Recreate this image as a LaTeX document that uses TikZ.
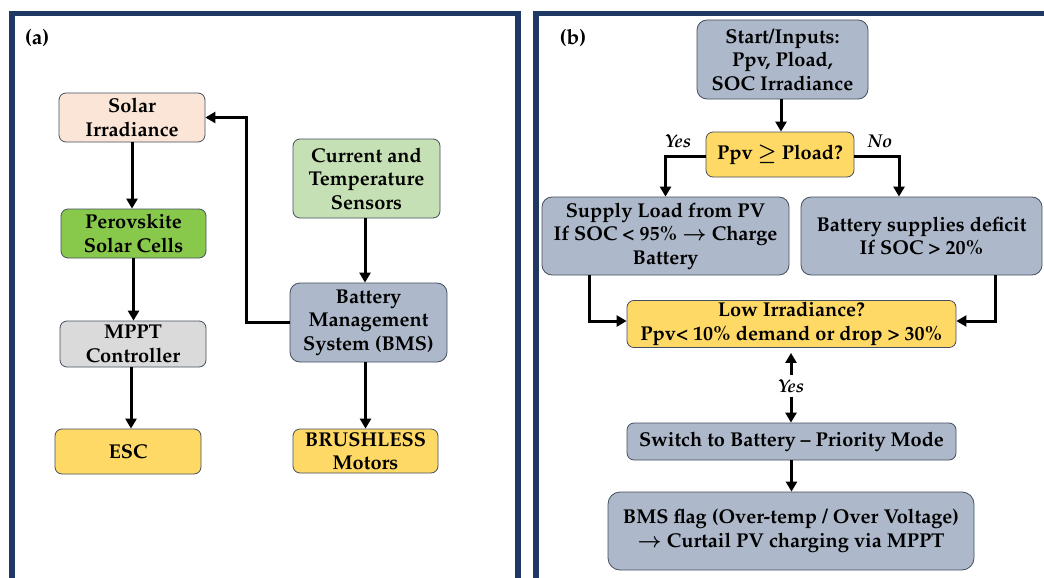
\documentclass[tikz,border=0pt]{standalone}
\usepackage[T1]{fontenc}
\usepackage{amsmath}
\usepackage{mathpazo}
\usetikzlibrary{arrows.meta,calc}

\definecolor{framenavy}{HTML}{1F3864}
\definecolor{edgegrey}{HTML}{44505F}
\definecolor{peach}{HTML}{FBE5D6}
\definecolor{leafgreen}{HTML}{88C94B}
\definecolor{palegreen}{HTML}{C5E0B4}
\definecolor{slateblue}{HTML}{ADB9CA}
\definecolor{lightgrey}{HTML}{DADADA}
\definecolor{sunyellow}{HTML}{FFD966}

\tikzset{
  panelframe/.style={draw=framenavy, line width=5.5pt},
  box/.style={draw=edgegrey, line width=0.8pt, rounded corners=7pt,
    align=center, inner sep=2pt,
    font=\fontsize{20}{23.5}\selectfont\bfseries},
  flow/.style={line width=3pt, -{Triangle[length=10pt,width=11pt]}},
  branchlabel/.style={font=\fontsize{18.5}{20}\selectfont\bfseries\itshape, inner sep=2pt},
  panellabel/.style={font=\fontsize{21}{24}\selectfont\bfseries}
}

\begin{document}
\begin{tikzpicture}[x=1pt,y=-1pt]
\useasboundingbox (0,0) rectangle (1044,578);
\fill[white] (0,0) rectangle (1044,578);

% panel frames (open at the bottom and right edge of the page)
\begin{scope}
  \clip (0,0) rectangle (1044,578);
  \draw[panelframe] (12,13.5) rectangle (518,620);
  \draw[panelframe] (536,13.5) rectangle (1080,620);
\end{scope}

\node[panellabel] (la) at (37,38) {(a)};
\node[panellabel] (lb) at (573,38) {(b)};

% ---------- (a) system blocks ----------
\node[box, fill=peach, minimum width=146pt, minimum height=49pt] (solar) at (132,117.5) {Solar\\Irradiance};
\node[box, fill=leafgreen, minimum width=145pt, minimum height=49pt] (pero) at (133.5,233.5) {Perovskite\\Solar Cells};
\node[box, fill=lightgrey, minimum width=146pt, minimum height=46pt] (mppt) at (133,344) {MPPT\\Controller};
\node[box, fill=sunyellow, minimum width=146pt, minimum height=45pt] (esc) at (128,451.5) {ESC};
\node[box, fill=palegreen, minimum width=147pt, minimum height=79pt] (sens) at (366.5,178.5) {Current and\\Temperature\\Sensors};
\node[box, fill=slateblue, minimum width=157pt, minimum height=79pt, rounded corners=10pt] (bms) at (368.5,322.5) {Battery\\Management\\System (BMS)};
\node[box, fill=sunyellow, minimum width=145pt, minimum height=44pt] (motors) at (365.5,451) {BRUSHLESS\\Motors};

\draw[flow] (solar.south) -- (solar.south |- pero.north);
\draw[flow] (pero.south) -- (pero.south |- mppt.north);
\draw[flow] ([xshift=-2pt]mppt.south) -- ([xshift=-2pt]mppt.south |- esc.north);
\draw[flow] ([xshift=-1.5pt]sens.south) -- ([xshift=-1.5pt]sens.south |- bms.north);
\draw[flow] ([xshift=-3pt]bms.south) -- ([xshift=-3pt]bms.south |- motors.north);
\draw[flow] (bms.west) -- ++(-43,0) |- (solar.east);

% ---------- (b) energy management flow ----------
\node[box, fill=slateblue, minimum width=171pt, minimum height=79pt, rounded corners=10pt] (start) at (782.5,59.5) {Start/Inputs:\\Ppv, Pload,\\SOC Irradiance};
\node[box, fill=sunyellow, minimum width=148pt, minimum height=45pt] (dec) at (780,154.5) {Ppv $\boldsymbol{\geq}$ Pload?};
\node[box, fill=slateblue, minimum width=247pt, minimum height=78pt, rounded corners=10pt] (supply) at (665.5,236) {Supply Load from PV\\If SOC < 95\% $\boldsymbol{\rightarrow}$ Charge\\Battery};
\node[box, fill=slateblue, minimum width=241pt, minimum height=78pt, rounded corners=10pt] (deficit) at (921.5,236) {Battery supplies deficit\\If SOC > 20\%};
\node[box, fill=sunyellow, minimum width=329pt, minimum height=44pt] (low) at (791.5,324) {Low Irradiance?\\Ppv< 10\% demand or drop > 30\%};
\node[box, fill=slateblue, minimum width=329pt, minimum height=37pt] (switch) at (791.5,441.5) {Switch to Battery -- Priority Mode};
\node[box, fill=slateblue, minimum width=366pt, minimum height=78pt, rounded corners=12pt] (flag) at (791,531) {BMS flag (Over-temp / Over Voltage)\\$\boldsymbol{\rightarrow}$ Curtail PV charging via MPPT};

\node[branchlabel] (yesl) at (678,141) {Yes};
\node[branchlabel] (nol) at (880,141) {No};
\node[branchlabel, inner sep=4pt] (yesd) at (791,386) {Yes};

\draw[flow] ([xshift=-1.5pt]start.south) -- ([xshift=-1.5pt]start.south |- dec.north);
\draw[flow] ([yshift=-2pt]dec.west) -| (supply.north);
\draw[flow] ([yshift=-2pt]dec.east) -| ([xshift=-22.5pt]deficit.north);
\draw[flow] ([xshift=-76.5pt]supply.south) |- ([yshift=3pt]low.west);
\draw[flow] ([xshift=73.5pt]deficit.south) |- ([yshift=3pt]low.east);
\draw[flow, shorten >=5pt] (yesd.north) -- (yesd.north |- low.south);
\draw[flow] (yesd.south) -- (yesd.south |- switch.north);
\draw[flow] (switch.south) -- (switch.south |- flag.north);
\end{tikzpicture}
\end{document}
